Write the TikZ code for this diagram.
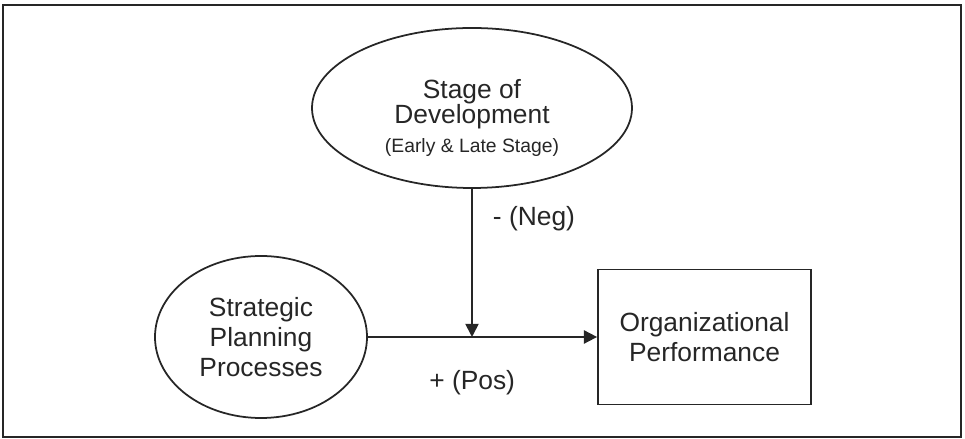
\documentclass[tikz,border=0pt]{standalone}
\usepackage{fontspec}
\setmainfont{Liberation Sans}
\usetikzlibrary{shapes.geometric,arrows.meta}
\tikzset{
  blob/.style={draw,shape=ellipse,line width=1pt,align=center,inner sep=0pt},
  card/.style={draw,shape=rectangle,line width=1pt,align=center},
  link/.style={-{Triangle[length=7.5pt,width=7.5pt]},line width=1pt},
  bigtext/.style={font=\fontsize{15}{17}\selectfont}
}
\begin{document}
\begin{tikzpicture}[text=black!85,draw=black!85]
\useasboundingbox (0,0) rectangle (19.3,8.78);
\draw[line width=1pt] (0.06,0.04) rectangle (19.22,8.68);
\node[blob,minimum width=6.4cm,minimum height=3.2cm,font=\fontsize{15}{14.5}\selectfont,name=stage] at (9.44,6.62){\rule{0pt}{22pt}Stage of\\Development\\[2pt]{\fontsize{11}{13}\selectfont (Early \& Late Stage)}};
\node[blob,minimum width=4.24cm,minimum height=3.24cm,bigtext,name=spp] at (5.22,2.04){Strategic\\Planning\\Processes};
\node[card,minimum width=4.26cm,minimum height=2.7cm,bigtext,name=perf] at (14.09,2.04){Organizational\\Performance};
\coordinate (jn) at (9.44,2.04);
\draw[link] (spp)--(perf)node[pos=0.455,yshift=-0.92cm,bigtext]{+ (Pos)};
\draw[link] (stage)--(jn)node[pos=0.2,xshift=1.24cm,bigtext]{- (Neg)};
\end{tikzpicture}
\end{document}
